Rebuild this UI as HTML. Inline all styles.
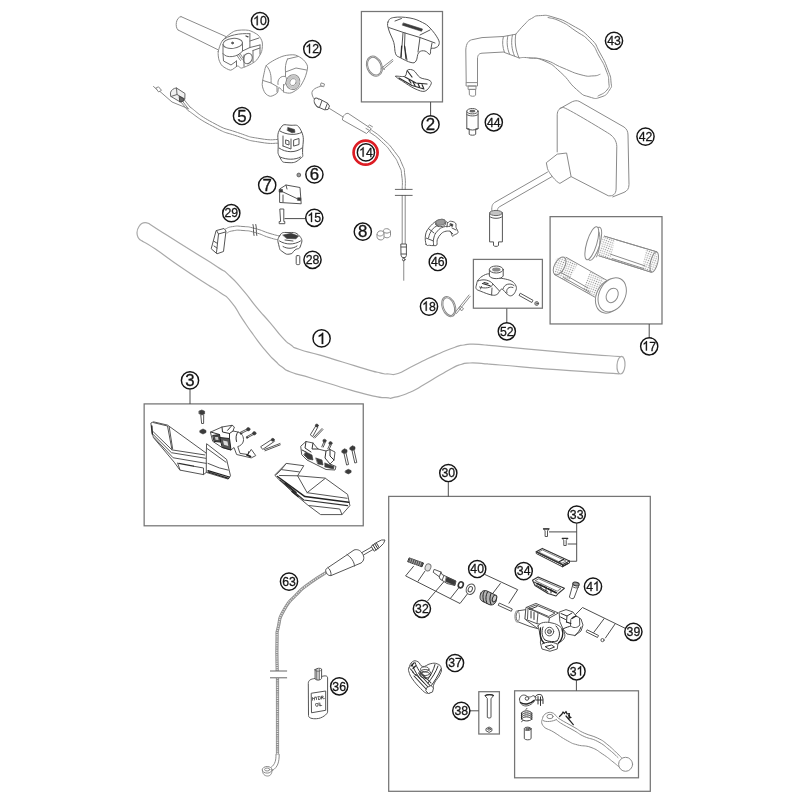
<!DOCTYPE html>
<html><head><meta charset="utf-8"><title>Handlebar, controls</title>
<style>
html,body{margin:0;padding:0;background:#fff;}
body{width:800px;height:800px;overflow:hidden;font-family:"Liberation Sans",sans-serif;}
svg{display:block;}
.bx{fill:none;stroke:#747474;stroke-width:1.25;}
.ld{fill:none;stroke:#444;stroke-width:0.95;}
.lc{fill:#fff;stroke:#151515;stroke-width:1.45;}
.lt{font-family:"Liberation Sans",sans-serif;font-size:16px;fill:#161616;stroke:#161616;stroke-width:0.3;text-anchor:middle;}
.hb{fill:none;stroke:#a9a9a9;stroke-width:1.2;stroke-linecap:round;stroke-linejoin:round;}
.p{fill:none;stroke:#555;stroke-width:1;stroke-linecap:round;stroke-linejoin:round;}
.pl{fill:none;stroke:#8a8a8a;stroke-width:1;stroke-linecap:round;stroke-linejoin:round;}
.pf{fill:#fff;stroke:#555;stroke-width:1;stroke-linecap:round;stroke-linejoin:round;}
.pfl{fill:#fff;stroke:#8a8a8a;stroke-width:1;stroke-linecap:round;stroke-linejoin:round;}
.pd{fill:#3a3a3a;stroke:#3a3a3a;stroke-width:0.6;stroke-linejoin:round;}
.pg{fill:#9a9a9a;stroke:#555;stroke-width:0.8;stroke-linejoin:round;}
.pk{fill:none;stroke:#2e2e2e;stroke-width:1.2;stroke-linecap:round;stroke-linejoin:round;}
</style></head>
<body>
<svg width="800" height="800" viewBox="0 0 800 800">
<defs><filter id="soft" x="-2%" y="-2%" width="104%" height="104%"><feGaussianBlur stdDeviation="0.62"/></filter></defs>
<rect x="0" y="0" width="800" height="800" fill="#ffffff"/>
<g filter="url(#soft)">
<g class="hb">
<path d="M148.8,223.5 C155.0,227.5 152.9,226.3 167.5,235.6 C182.1,244.8 175.8,240.8 192.5,251.2 C209.2,261.7 205.4,258.9 217.5,266.9 C229.6,274.8 220.4,267.5 228.8,275.1 C237.1,282.7 233.3,279.1 242.5,289.6 C251.7,300.2 247.1,295.8 256.2,306.8 C265.4,317.8 261.2,312.3 270.0,322.6 C278.8,332.9 275.5,330.2 282.5,337.7 C289.5,345.2 285.5,341.1 291.0,345.0 C296.5,348.9 289.3,345.8 299.0,349.2 C308.7,352.7 305.5,351.0 320.0,355.2 C334.5,359.5 327.5,357.5 342.5,362.0 C357.5,366.5 352.5,365.1 365.0,368.8 C377.5,372.4 372.0,371.1 380.0,372.8 C388.0,374.6 383.0,373.8 389.0,374.0 C395.0,374.2 391.0,375.7 398.0,373.5 C405.0,371.3 401.0,372.0 410.0,367.5 C419.0,363.0 415.0,364.8 425.0,360.0 C435.0,355.2 430.0,357.5 440.0,353.2 C450.0,349.0 447.0,350.0 455.0,347.2 C463.0,344.5 458.0,346.0 464.0,345.0 C470.0,344.0 466.0,344.2 473.0,344.2 C480.0,344.2 476.0,344.3 485.0,345.0 C494.0,345.7 471.7,343.8 500.0,346.4 C528.3,349.0 529.8,349.3 570.0,352.8 C610.2,356.2 603.8,355.3 620.8,356.6"/>
<path d="M142.5,241.2 C146.7,243.8 142.5,240.3 155.0,248.8 C167.5,257.2 163.3,255.0 180.0,266.5 C196.7,277.9 191.7,274.4 205.0,283.1 C218.3,291.8 211.2,286.1 220.0,292.5 C228.8,298.9 224.0,293.4 231.5,302.3 C239.0,311.2 235.2,308.2 242.5,319.1 C249.8,330.0 246.2,324.9 253.5,335.0 C260.8,345.1 257.2,340.6 264.5,349.4 C271.8,358.2 269.5,355.4 275.5,361.3 C281.5,367.2 277.7,363.8 282.5,367.2 C287.3,370.7 282.5,368.8 290.0,371.8 C297.5,374.8 292.5,372.5 305.0,376.2 C317.5,380.0 312.5,378.5 327.5,383.0 C342.5,387.5 335.0,385.5 350.0,389.8 C365.0,394.0 360.5,393.1 372.5,395.8 C384.5,398.4 378.5,397.2 386.0,397.7 C393.5,398.2 387.0,399.1 395.0,397.2 C403.0,395.4 400.0,396.7 410.0,392.2 C420.0,387.8 415.0,389.8 425.0,384.0 C435.0,378.2 431.0,380.2 440.0,375.0 C449.0,369.8 445.0,371.8 452.0,368.2 C459.0,364.8 455.0,366.2 461.0,364.5 C467.0,362.8 462.0,363.2 470.0,363.0 C478.0,362.8 475.0,363.1 485.0,363.8 C495.0,364.4 471.7,362.7 500.0,365.0 C528.3,367.3 530.3,367.7 570.0,370.6 C609.7,373.5 602.7,372.7 619.0,373.8"/>
<path d="M148.75,223.5 C145,222 141.25,223 139,226.500 C137,229.500 136.500,234 138.1,237.5 C139,239.500 140.500,240.500 142.5,241.25"/>
<ellipse cx="621" cy="365.2" rx="4" ry="8.8" transform="rotate(4 621 365.2)"/>
</g>
<g class="pl">
<path d="M181,16.6 L227,37 M178,30 L218.500,50 M181,16.6 C176,17 174.500,27 178,30"/>
<path class="pfl" d="M218.2,51.6 C218.7,49.3 220.4,43.1 222.4,40.6 C224.4,38.1 231.6,32.2 234.8,31.0 C237.9,29.8 245.7,29.8 248.5,30.3 C251.3,30.8 256.5,33.7 258.1,35.1 C259.8,36.5 261.8,40.0 262.2,42.0 C262.7,44.0 262.3,49.5 261.6,51.6 C260.9,53.7 258.0,58.4 256.8,59.9 C255.5,61.4 253.1,63.0 251.2,64.0 C249.4,65.0 243.2,67.9 241.6,68.1 C239.9,68.3 238.8,65.7 237.5,66.0 C236.2,66.3 232.4,70.2 230.6,70.2 C228.8,70.2 223.8,67.2 222.4,66.0 C221.0,64.8 219.5,61.6 219.0,59.9 C218.5,58.2 217.8,53.9 218.2,51.6Z"/>
</g><g class="p" stroke="#6e6e6e">
<ellipse cx="232.7" cy="43.4" rx="9.8" ry="5" transform="rotate(-6 232.7 43.4)" stroke="#6e6e6e"/>
<path stroke="#6e6e6e" d="M223,44.500 V53.500 C226,58.500 238,57.500 242.500,51 V42.500 M249.900,33.750 V47.500 M249.900,41 L259,38 M249.900,47.500 L260,45 M242.500,51 L249.900,47.500 M223,53.500 L223.500,61 L231,65 L236.500,61 M236.500,61 V66.500 M260,45 V54 M253,50.500 L260,48 M222.400,40.600 C228,35 240,33 249.900,33.750 M253,50.500 V62 M244,55 V66.500"/>
<ellipse cx="247.8" cy="58.5" rx="4.3" ry="5.4" transform="rotate(25 247.8 58.5)" stroke="#6e6e6e"/>
<circle cx="232.500" cy="43" r="0.900" fill="#666"/>
<path d="M237,55.500 l3.500,5 M238.500,54.500 l3.500,5 M240,53.500 l3,4.500" stroke="#555" stroke-width="0.700"/>
<path d="M246,36 l2,0.800" stroke="#444" stroke-width="1.300"/>
</g>
<g class="pl">
<path class="pfl" d="M266.4,65.4 C267.8,63.8 272.2,61.2 274.6,59.9 C277.0,58.6 281.5,56.4 284.2,55.8 C287.0,55.1 292.7,54.4 295.2,55.0 C297.8,55.6 301.9,58.3 303.5,59.9 C305.1,61.5 307.4,64.4 307.6,66.8 C307.8,69.1 306.0,75.0 304.9,77.8 C303.8,80.5 301.2,85.4 299.4,87.4 C297.6,89.4 293.1,92.3 291.1,92.9 C289.1,93.5 285.9,92.9 284.2,92.2 C282.6,91.5 279.7,87.3 278.8,87.4 C277.8,87.5 278.5,91.7 277.4,92.9 C276.3,94.1 272.2,96.3 270.5,96.3 C268.8,96.3 266.1,94.5 265.0,92.9 C263.9,91.3 262.3,87.4 262.2,84.6 C262.2,81.8 263.7,74.8 264.3,72.2 C264.9,69.7 265.0,67.0 266.4,65.4Z"/>
<path d="M287.500,59 C285.500,63 285,68 285.500,72 M285.500,72 L296,68 L306.500,70 M285.500,72 V76.500 M266.500,66 C270.500,70 271.500,76 271,83 L277,86.500 M271,83 L263,80.500 M277,86.500 V92 M287.500,59 L298,56.500 M283.500,84.500 V92"/>
<path d="M278,84.500 C277,79 281,75.500 285.500,76.500 C287.500,79 286.500,84 283.500,86"/>
<ellipse cx="293" cy="82.1" rx="6.8" ry="7.5" transform="rotate(20 293 82.1)" fill="#fff"/>
<ellipse cx="293" cy="82.1" rx="4.900" ry="5.500" transform="rotate(20 293 82.1)" fill="none" stroke="#c6c6c6" stroke-width="2.800"/>
<ellipse cx="293" cy="82.1" rx="3" ry="3.600" transform="rotate(20 293 82.1)" fill="#fff" stroke="#888" stroke-width="0.800"/>
</g>
<g class="pl">
<path d="M153.500,86.500 L157,89.500 M156,88 l2.500,-1.200 l3,3.500 l-2.500,1.500 z M160,91.500 L172,102 L188,108.500"/>
<path d="M190.0,107.0 C197.5,112.2 196.7,114.0 212.5,122.5 C228.3,131.0 221.7,127.1 237.5,132.5 C253.3,137.9 246.2,136.3 260.0,138.6 C273.8,140.9 272.7,139.2 279.0,139.5"/>
<path d="M188.0,110.5 C196.2,115.7 196.0,117.6 212.5,126.2 C229.0,134.8 221.7,130.9 237.5,136.2 C253.3,141.5 246.2,139.9 260.0,142.2 C273.8,144.5 272.7,142.9 279.0,143.2"/>
<path d="M184,99.500 L190,107 M182,100.500 L188.500,109 M180.500,101.500 L187.500,110"/>
</g><g class="p">
<path d="M170.500,92.500 C171,90 174,88 176.500,88 L185,93.500 L184.800,99 L180,101.800 L171,96.500 Z" fill="#f0f0f0" stroke="#666"/>
<path d="M176.500,88 L177,94.500 L184.800,99 M177,94.500 L171,96.500" stroke="#666"/><path d="M179.500,96.500 l4.500,2.500 l-0.300,2 l-3.500,1 z" fill="#666" stroke="#444"/>
<path class="pf" d="M280.0,129.0 C283.5,123.1 283.7,124.8 290.0,125.2 C296.3,125.7 297.2,123.1 301.0,130.5 C304.8,137.9 302.9,141.5 302.6,150.0 C302.3,158.5 304.4,155.0 300.0,158.8 C295.6,162.6 294.0,163.0 288.0,162.6 C282.0,162.2 282.9,162.8 280.0,157.5 C277.1,152.2 278.2,153.6 278.2,145.0 C278.2,136.4 276.5,134.9 280.0,129.0Z"/>
<path d="M280,131 C286,135 296,135.500 301.500,132.500 M279,148 C286,153 296,153 302,148 M283,136 V146 M283,146 L291,149 V139 M294,140 l5,-1.500 v6 l-5,1.500 z M286,140 l3,1 v4 l-3,-1 z"/>
<path class="pd" d="M288,127.500 L294.500,129.500 L295,132.300 L292,132.800 L287.500,130.500 Z"/>
<path d="M280,157 C287,160 295,160 300.500,157"/>
</g>
<circle class="pg" cx="298.8" cy="175" r="1.9"/>
<g class="p">
<path class="pf" d="M280,188.800 L286,185 L300,187.500 L301.200,203.800 L280,202.500 Z"/>
<path d="M281,191 L300,200 M286,185 L287,189 M283,195 V202"/>
<rect class="pd" x="279.500" y="189.500" width="3" height="2.600"/><rect class="pd" x="297.800" y="197.800" width="3" height="2.600"/>
</g>
<g class="p"><path class="pf" d="M280.200,209 h3.600 v12.500 h1 v2.200 h-5.600 v-2.200 h1 z"/></g>
<path class="ld" d="M284.500,218.600 H305.500"/>
<g class="pl">
<path d="M225.5,229.0 C227.8,228.2 226.7,227.4 232.5,226.6 C238.3,225.8 235.5,225.9 243.0,226.5 C250.5,227.1 246.0,226.2 255.0,228.5 C264.0,230.8 261.7,231.0 270.0,233.5 C278.3,236.0 276.7,235.2 280.0,236.0"/>
<path d="M227.0,233.0 C229.0,232.3 227.7,231.6 233.0,230.8 C238.3,230.0 235.7,229.9 243.0,230.5 C250.3,231.1 246.3,230.2 255.0,232.5 C263.7,234.8 261.0,235.0 269.0,237.5 C277.0,240.0 275.7,239.2 279.0,240.0"/>
</g><g class="p">
<path d="M253,224.500 C254,228 253,231 254,235.500 M255.800,224.500 C256.800,228 255.800,231 256.800,235.500"/>
<path class="pf" d="M216.500,230.500 L224,228.500 L226,231 L223.500,251.500 L217,253.800 L211.500,249 Z"/>
<path d="M216.500,230.500 L218.500,234 L216.500,252.500 M218.500,234 L225.500,232 M213.500,241 L217.500,243.500 M214,246 L217,248"/>
<path class="pf" d="M279.5,236.0 C282.2,231.9 282.0,232.5 288.0,232.5 C294.0,232.5 295.8,231.9 299.5,236.0 C303.2,240.1 301.9,241.8 300.5,246.0 C299.1,250.2 298.1,247.6 295.0,250.0 C291.9,252.4 293.6,253.4 290.0,254.0 C286.4,254.6 286.3,254.4 283.0,252.0 C279.7,249.6 280.1,250.8 279.0,246.0 C277.9,241.2 276.8,240.1 279.5,236.0Z"/>
<path class="pd" d="M283,235 L291,233.300 L298.500,236 L296,238.800 L287,238.500 Z" />
<path d="M279.500,241 C286,245 294,245 300.500,241 M285,240 l8,1 M283,246.500 C287,249 293,249 297,246"/>
</g>
<g class="p"><rect class="pf" x="296.200" y="255.600" width="3.600" height="9" rx="1"/></g>
<g class="p">
<path class="pf" d="M388.0,22.0 C389.0,19.5 389.4,18.3 393.8,17.5 C398.1,16.7 404.2,17.0 410.0,18.0 C415.8,19.0 418.5,20.5 422.5,22.5 C426.5,24.5 426.9,24.8 430.0,28.0 C433.1,31.2 436.2,35.4 438.0,38.8 C439.8,42.1 439.4,43.1 438.8,45.0 C438.1,46.9 436.6,47.2 435.0,48.0 C433.4,48.8 432.0,47.5 431.0,48.8 C430.0,50.0 431.2,53.9 430.0,54.4 C428.8,54.9 427.2,51.4 425.0,51.0 C422.8,50.6 420.6,50.5 418.8,52.5 C416.9,54.5 417.6,59.0 416.0,61.0 C414.4,63.0 414.2,63.2 411.0,62.5 C407.8,61.8 403.1,59.2 400.0,57.5 C396.9,55.8 396.9,56.8 395.6,53.8 C394.4,50.8 395.1,47.2 393.8,42.5 C392.4,37.8 389.9,34.1 388.8,30.0 C387.6,25.9 387.0,24.5 388.0,22.0Z"/>
<path d="M388.700,27.500 L405,33 L420,37.500 L435,43 M403,33 L402,46 L401,57.500 M395,21 L401.500,18.500 M420,35 L430,30 M405,33 L404.500,46 L407,60 M420,37.500 L418,52 M431,48.500 L432,43"/>
<path class="pd" d="M403.500,23 L422.500,29 L421.500,31.300 L402.500,25.200 Z"/>
<path class="pk" d="M401.600,46 L401,57 M404.600,46 L406,59" />
</g><g class="pl">
<ellipse cx="374.4" cy="66.2" rx="7.6" ry="10.4" transform="rotate(-22 374.4 66.2)"/>
<ellipse cx="374.4" cy="66.2" rx="6.4" ry="9.2" transform="rotate(-22 374.4 66.2)"/>
<path d="M381,68.500 L392.500,59.500 M382.500,70 L393,61 M382.500,67 l2,2.500"/>
</g><g class="p">
<path class="pf" d="M395.6,76.2 C396.0,75.4 403.0,77.3 405.0,76.2 C407.0,75.2 406.0,70.9 407.5,70.0 C409.0,69.1 411.7,69.3 413.8,70.6 C415.8,71.8 417.5,75.9 420.0,77.5 C422.5,79.1 426.9,79.0 428.8,80.0 C430.6,81.0 431.9,81.9 431.2,83.8 C430.6,85.6 427.7,90.4 425.0,91.2 C422.3,92.1 418.8,90.4 415.0,88.8 C411.2,87.1 405.7,83.3 402.5,81.2 C399.3,79.2 395.2,77.1 395.6,76.2Z"/>
<path class="pk" d="M399,78 L412,85.500 L424,89 M405,77 L416,83 L427,84 M409,80 l2,3 M413,82 l2,3.500 M418,83.500 l1.500,3.500 M422,84.500 l1.500,3.500 M407.500,71 L412,77"/>
</g>
<g class="pl">
<path d="M321.500,83 l3,1 l-0.800,2.800 l-3,-1 z M322,86 C317,87 311,89.500 312,94 C312.500,97 314,98.500 315,100"/>
<path d="M329.500,108.500 L343.200,117"/>
<path d="M347.700,113.300 C345,113 342,117 342.500,120 L366.500,133.500 L371,129 Z"/>
<path d="M366,128.500 l4.500,2.500 M368,126.500 l1.500,-1.500 l3,1.800"/>
<path d="M371.5,130.0 C375.5,133.2 375.8,132.3 383.5,139.5 C391.2,146.7 388.3,143.3 394.5,151.5 C400.7,159.7 398.6,156.2 402.0,164.0 C405.4,171.8 403.7,166.5 404.8,175.0 C405.9,183.5 405.1,184.6 405.2,189.4"/>
<path d="M369.5,132.0 C373.5,135.2 374.0,134.3 381.5,141.5 C389.0,148.7 386.2,145.5 392.0,153.5 C397.8,161.5 395.7,158.0 399.0,165.5 C402.3,173.0 400.7,168.0 401.8,176.0 C402.9,184.0 402.1,184.9 402.2,189.4"/>
<path d="M402.200,195.400 V243.800 M405.200,195.400 V243.800 M403.750,260.500 V280.300"/>
</g><g class="p">
<ellipse class="pf" cx="317.8" cy="102.8" rx="3" ry="5.2" transform="rotate(-30 317.8 102.8)"/>
<path class="pf" d="M319.500,99 L327.500,103.200 L329.500,106 L328,109.500 L324.500,109.800 L317,106.500"/>
<path d="M322,100.500 L319.500,107.500 M327.500,103.200 L325,109.500"/>
<path d="M395.300,189.400 H412.200 M395.300,195.400 H412.200" stroke-width="0.9"/>
<path class="pf" d="M401.200,244 h5.200 v11.500 l-1,2 h-3.200 l-1,-2 z"/><path d="M401.200,247 h5.200 M401.200,254 h5.200"/><circle cx="403.75" cy="259.600" r="1.300"/>
</g>
<g class="pl">
<path d="M377,234.500 C377,230 383,229.500 384,233.500 V238 C383,241 377,240.500 377,237 Z M377,234.500 C378.500,237 382.500,236.500 384,233.500"/>
<path d="M383,231 C383.500,227.500 390,228 390.500,231.500 V235.500 C390,238 386,238.500 384.500,237 M383.500,231.500 C385,234 389,233.500 390.500,231.500"/>
</g>
<g class="p" stroke="#6a6a6a">
<path class="pf" stroke="#6a6a6a" d="M426.1,244.4 C425.3,242.3 424.9,238.4 425.5,235.0 C426.1,231.6 427.1,230.2 429.2,227.5 C431.4,224.8 433.4,222.9 436.1,221.2 C438.9,219.6 440.7,219.2 443.0,219.4 C445.3,219.7 445.9,222.1 447.4,222.5 C448.9,222.9 448.9,221.1 450.5,221.2 C452.1,221.4 454.4,221.8 455.5,223.1 C456.6,224.3 455.6,225.6 456.1,227.5 C456.6,229.4 458.4,231.0 458.0,232.5 C457.6,234.0 455.4,234.2 454.2,235.0 C453.1,235.8 453.1,236.9 452.4,236.2 C451.6,235.6 451.8,232.9 450.5,231.9 C449.2,230.9 448.0,230.9 446.1,231.2 C444.2,231.6 442.8,232.1 441.1,233.8 C439.4,235.4 438.3,237.2 437.4,239.4 C436.5,241.7 437.6,243.8 436.8,245.0 C435.9,246.2 434.4,245.5 433.0,245.6 C431.6,245.7 430.9,245.5 429.5,245.3 C428.1,245.1 426.9,246.5 426.1,244.4Z"/>
<path d="M433.6,245.0 C433.7,243.1 432.8,241.7 433.8,238.0 C434.8,234.3 434.9,233.9 437.5,231.0 C440.1,228.1 440.3,228.2 443.5,227.0 C446.7,225.8 447.9,226.6 449.5,226.5"/>
<path d="M428.5,238.0 C429.2,236.3 428.9,234.7 431.0,231.5 C433.1,228.3 433.3,228.1 436.5,226.0 C439.7,223.9 441.3,224.4 443.0,223.8"/>
<path d="M426,238 L433.500,241 M429,229 L434,233 M447.400,222.500 L447,227 M452,228 l4,2 M450,231 l3,3"/>
<ellipse cx="440.5" cy="222.300" rx="4.800" ry="2.900" transform="rotate(-8 440.5 222.300)" fill="#9a9a9a" stroke="#777"/>
<path d="M435.800,223 v2 c2,2.500 8,2 9.500,-0.500 v-2"/>
<path class="pd" d="M450.500,223.500 l2.500,1 l-0.500,2 l-2.500,-1 z"/>
</g>
<g class="pl">
<ellipse cx="448.75" cy="306.6" rx="6.6" ry="10.4" transform="rotate(-20 448.75 306.6)"/>
<ellipse cx="448.75" cy="306.6" rx="5.3" ry="9.2" transform="rotate(-20 448.75 306.6)"/>
<path d="M455,312.500 L469,295 M456.500,313.500 L470.300,296.200 M460.500,306.500 l3,2 l-1.500,2.200 l-3,-2 z"/>
</g>
<g class="pl">
<path d="M466.2,82.6 L465.8,50 C466,43 469,40 473,39.500 L482,37.6 L503.4,36.5"/>
<path d="M477.5,82.6 V59 C477.500,55 479,53.500 482,53.200 L504,52"/>
<path d="M503.4,36.5 C502,42 502.500,47 504.500,52.500 M507.9,35.800 C506.500,42 507,48 509.500,54 M512.4,35 C511,42 511.500,49 514.500,56 M503.4,36.5 L515.75,34.25 M504.500,52.500 L519.1,57.9"/>
<path d="M515.8,34.2 C518.5,31.2 520.0,28.8 524.8,24.1 C529.5,19.4 526.8,21.1 531.5,18.5 C536.2,15.9 533.8,15.9 540.5,15.6 C547.2,15.3 544.5,14.5 554.0,17.4 C563.5,20.3 561.2,19.1 572.0,25.2 C582.8,31.4 581.6,29.7 590.0,38.0 C598.4,46.3 594.6,43.4 600.0,53.0 C605.4,62.6 604.7,61.3 608.0,70.0 C611.3,78.7 610.5,76.0 611.0,82.0 C611.5,88.0 612.5,85.5 609.5,90.0 C606.5,94.5 607.1,95.0 601.0,97.0 C594.9,99.0 596.4,99.1 589.0,96.8 C581.6,94.5 585.0,96.7 576.5,89.4 C568.0,82.1 570.2,80.9 560.8,72.5 C551.3,64.1 554.5,65.6 545.0,61.2 C535.5,56.9 537.0,58.9 529.2,57.9 C521.5,56.9 522.1,57.9 519.1,57.9"/>
<path d="M515.75,34.25 C514.500,42 515.500,50 519.1,57.9"/>
<path d="M548.0,17.5 C551.8,18.7 552.6,17.6 560.8,21.5 C568.9,25.4 566.2,24.4 575.0,30.5 C583.8,36.6 582.8,34.1 590.0,41.8 C597.2,49.4 594.2,47.5 599.0,56.0 C603.8,64.5 603.1,62.2 606.0,70.0 C608.9,77.8 608.5,76.0 608.8,82.0 C609.1,88.0 610.2,85.8 607.0,90.0 C603.8,94.2 600.7,94.2 598.0,96.0"/>
<path d="M529.2,57.9 C534.0,58.5 534.9,57.0 545.0,60.0 C555.1,63.0 552.2,63.6 563.0,68.0 C573.8,72.4 572.0,72.4 581.0,74.8 C590.0,77.1 587.3,76.0 593.0,75.9 C598.7,75.8 597.9,74.8 600.0,74.3"/>
<path d="M466.500,82.600 h11 v3.400 h-11 z M468.500,86 h7.500 v3.400 h-7.500 z M469.600,89.400 h6 v5.800 c-1,1.500 -5,1.500 -6,0 z"/>
</g>
<g class="p">
<path class="pf" d="M466.800,111.200 V128.750 h2.400 v5.500 c1,1.300 5.500,1.300 6.500,0 v-5.500 h2.400 V111.200"/>
<ellipse class="pf" cx="472.4" cy="111.2" rx="5.6" ry="2.7"/><ellipse cx="472.4" cy="111.2" rx="3" ry="1.400" fill="#666" stroke="none"/>
<path d="M466.800,128.750 C469,130.500 476,130.500 478.100,128.750 M466.800,114.500 C469,116.500 476,116.500 478,114.500"/>
</g>
<g class="pl">
<path d="M557.2,151.9 V114.75 C557.400,110 560,107.500 563.25,107.5 C566,107.500 600,128 609.4,133.9 C614,137 616.500,141 616.8,146.25 L616.1,189 C616,194 613,196.500 608.25,195.75 L571.1,176.6"/>
<path d="M560,108.500 L572.25,101.7 C575,100.500 577,100.500 579,101.25 L624,127 C627,129 628,132 628,135 L629,184.5 C629,189 627,191 624,192.4 L612.75,196.9"/>
<path class="pfl" d="M557.6,154.1 L566.6,153 L571.1,176.6 L559.9,183.4 C556,182 549,173 547.5,168.75 L546.4,163.1 Z"/>
<path d="M547.5,172.1 L494.6,202.5 C492.500,204 491.500,206 491.800,210.400 M552,176.6 L499.1,207 C498,208 497.500,209 497.500,210.400"/>
</g><g class="p" stroke="#777">
<path class="pf" stroke="#777" d="M489.600,213 V241.900 h3.900 v3.600 c1,1.200 4,1.200 5,0 v-3.600 h3.900 V213"/>
<ellipse cx="496" cy="213" rx="6.4" ry="2.600" fill="#c4c4c4" stroke="#666"/>
<path d="M489.600,216.500 C492,219 500,219 502.400,216.500"/>
</g>
<defs><pattern id="kn" width="2.2" height="2.2" patternUnits="userSpaceOnUse" patternTransform="rotate(20)"><rect width="2.2" height="2.2" fill="#fff"/><circle cx="1.1" cy="1.1" r="0.62" fill="#8c8c8c"/></pattern></defs>
<g class="pl">
<path d="M604.4,236.2 L656.7,251.8 M598.9,255.75 L651.25,272.2"/>
<path fill="url(#kn)" stroke="none" d="M603,236 L615,239.500 L610.500,259.500 L598.500,255.700 Z"/>
<path fill="url(#kn)" stroke="none" d="M646,249 L656,252 C659,255 657,268 652,272 L642,269 Z"/>
<path d="M604.4,236.2 L656.7,251.8 M598.9,255.75 L651.25,272.2 M610.6,254.2 L645,265.9 M612,258.500 L643.500,268.500"/>
<ellipse cx="654.2" cy="262" rx="3.6" ry="10.4" transform="rotate(14 654.2 262)"/>
<ellipse class="pfl" cx="594.600" cy="243.800" rx="5.2" ry="17.200" transform="rotate(17 594.600 243.800)"/>
<ellipse class="pfl" cx="591.800" cy="243.200" rx="5" ry="17.200" transform="rotate(17 591.800 243.200)"/>
<path d="M599,232 C601,238 600,250 596.500,257"/>
<path fill="url(#kn)" stroke="none" d="M556,258 L566,257 L578,264 L568,282 L554.500,274.500 Z"/>
<path fill="url(#kn)" stroke="none" d="M590,271 L604,279 L596,298 L583,290.500 Z"/>
<path d="M566.1,257.3 L607.5,280.75 M554.4,274.5 L595,297.2 M561,272.500 L588,288 M563.500,277.500 L590,292.500"/>
<ellipse cx="559.600" cy="265.900" rx="5" ry="9.800" transform="rotate(28 559.600 265.900)"/>
<ellipse class="pfl" cx="609.600" cy="296" rx="13" ry="18" transform="rotate(27 609.600 296)"/>
<ellipse class="pfl" cx="612.2" cy="294.8" rx="13" ry="18" transform="rotate(27 612.2 294.8)"/>
<ellipse cx="612.2" cy="295.4" rx="5.6" ry="7.6" transform="rotate(27 612.2 295.4)"/>
</g>
<g class="p">
<path class="pf" d="M477.8,280.7 C478.8,279.2 479.7,277.8 482.0,276.4 C484.3,275.0 486.6,273.6 489.4,273.8 C492.2,274.0 493.2,276.5 496.0,277.5 C498.8,278.5 500.1,277.9 503.2,278.6 C506.4,279.3 509.2,279.7 511.8,281.2 C514.3,282.7 515.2,284.0 516.0,286.0 C516.8,288.0 516.4,289.4 515.5,291.3 C514.6,293.2 513.4,295.0 511.8,295.6 C510.1,296.2 509.4,295.8 507.5,294.5 C505.6,293.2 503.8,289.8 502.2,289.2 C500.6,288.6 500.6,290.2 499.5,291.3 C498.4,292.4 498.5,293.8 496.9,294.5 C495.3,295.2 494.8,295.6 491.6,295.0 C488.4,294.4 484.0,292.6 480.9,291.3 C477.8,290.0 477.0,290.2 476.2,288.7 C475.4,287.2 476.4,285.5 476.7,283.9 C477.0,282.3 476.7,282.2 477.8,280.7Z"/>
<path class="pf" d="M489.400,269.500 V276 C491,279.500 501.500,279.500 503.200,276 V269.500"/>
<ellipse class="pf" cx="496.3" cy="269.5" rx="6.9" ry="3.5"/><ellipse cx="496.3" cy="269.5" rx="4.2" ry="2" fill="#8a8a8a" stroke="none"/>
<path d="M478,281 C483,278.500 490,280 493,284 C492,288 484,289 479.500,287 M493,284 L499.500,291 M503,289 C504,284 510,282.500 514,285.500 M507,293 C505.500,289 509,286 513,287.500 M480.500,289 L481.500,286.500 M491.600,295 L492,288"/>
<path class="pk" d="M482.500,283.500 L490,285.800 M484,282.500 L488,283.500"/>
<path class="pf" d="M520.6,293.400 L533,300.300 L531.800,302.500 L519.400,295.600 Z"/>
<circle cx="536.7" cy="303.5" r="1.9"/><circle cx="536.7" cy="303.5" r="0.700"/>
</g>
<g class="p">
<path class="pf" stroke="#3c3c3c" stroke-width="1.1" d="M151.2,422.9 L153.4,421.8 L167.5,425.1 L206.3,453.2 L206.6,443.7 L226.6,459.4 L230.5,475.8 L228.2,479.1 L206.3,472.4 L203.5,474.6 L179.9,470.1 L174.2,462.2 L153.4,437.5 L151.8,430.8Z"/>
<path d="M153.400,422.600 L167.500,426 L172,449.900 L153.400,431.900 M169.200,426.800 L172.600,448.700 M172,449.900 L204.600,454.900 M153.400,434.700 L171.400,452.700 L205.750,458.300 M154,437.500 L173.100,457.750 L206.300,463.400 M206.300,453.250 L206.300,472.400 M207.400,448.750 L226,462.250 M208,463.400 L219.250,467.900 L228.250,470.100 M177.600,463 L180,470 M193.400,466.200 L203.500,468 L203.500,474.600"/>
<path class="pk" d="M178.750,463.400 L193.400,466.200" stroke-width="1.700"/>
<path d="M208,470.600 L229.400,477 M208,472 L228.500,478.300" stroke="#222" stroke-width="1.300"/>
<path d="M151.800,426 L152.300,434" stroke="#222" stroke-width="1.400"/>
<path class="pd" d="M199.200,411 l2.600,-1 l2.800,1.200 v2.600 l-2.600,1.200 l-2.800,-1.200 z"/>
<path d="M200.800,415 L201.600,423.500 L203.600,423.500 L203.700,415"/>
<path class="pd" d="M200,430.500 l3,-1.500 l3,1.500 v2 l-3,1.500 l-3,-1.500 z"/>
<path class="pf" d="M210.750,432 L222,427 L232.100,425.250 L234.400,427 L233,431 L238,432 C242,433 244,437 243.400,441 C243,444 240,446 237.750,446.600 L240,453.400 L247.900,454.500 L251.250,449.400 L255.750,455.600 L251.250,457.900 L236.600,454.500 L234,447.500 L231,450 L222,447.500 L213,441.500 Z"/>
<path d="M213,435.400 L219.500,434.500 L220.900,442.100 L214.500,441.500 Z" fill="#4a4a4a" stroke="#222"/>
<path d="M220.300,437.600 L229.500,438.500 L231,450 L222.500,447.500 Z" fill="#555" stroke="#222"/>
<path d="M223,440.500 l4.500,1 l0.800,4.500 l-4.300,-1.200 z" fill="#ddd" stroke="none"/>
<path d="M215,437 l3,0 l0.500,3 l-3,-0.300 z" fill="#ccc" stroke="none"/>
<path d="M222,427 L222.500,432 L229.500,433.500 M227.600,430.300 L232.100,425.250 M229.500,433.500 L233,431 M229.500,433.500 L229.500,438.500 M238,432 C236,434 235.500,438 236.500,441.500 M247.900,454.500 l1,-3 M210.750,432 L219.500,434.500" stroke="#333"/>
<path d="M247,455 l3.500,1.500" stroke="#222" stroke-width="1.800"/>
<path d="M240,432.500 L247,429 M240.500,433.800 L247.600,430.300 M246.500,436.800 L253.500,433 M247,438 L254,434.300"/>
<circle class="pd" cx="248.300" cy="429.200" r="1.700"/><circle class="pd" cx="254.300" cy="433.300" r="1.700"/><circle class="pd" cx="241" cy="433.500" r="0.800"/><circle class="pd" cx="247.200" cy="437.500" r="0.800"/>
<path class="pf" d="M261,446.500 L272.500,439 L274.500,441.300 L263,449.200 Z"/><circle class="pd" cx="272.800" cy="439.800" r="1.500"/>
<path d="M264.500,449.500 L280,443.500 M265,450.800 L280.300,444.800"/>
<path class="pf" stroke="#3c3c3c" stroke-width="1.1" d="M275.1,474.7 L286.3,463.4 L303.8,465.7 L297.6,475.8 L325.1,478.1 L347.6,494.4 L349.9,505.6 L342.0,514.6 L320.6,514.6 L307.1,504.5 L292.5,492.1 L276.8,477.5Z"/>
<path d="M286.300,463.400 L281.250,469.600 L299.250,471.900 M281.250,469.600 L276.500,474.500 M297.600,475.800 L307.100,492.700 L347.100,498.300 M307.100,492.700 L325.100,478.500 M279.500,475.500 L297.600,475.800 M309.500,505.600 L339.750,509 L342,514.600"/>
<path d="M277.500,476.500 L304.900,496.600 L348.750,502.250" stroke="#222" stroke-width="1.500"/>
<path d="M280,480 L303.750,500 L347.600,505.600" stroke="#333" stroke-width="1.100"/>
<path d="M285,483 L296,492.500 M292,491.500 L298,496.500" stroke="#222" stroke-width="1.600"/>
<path class="pf" d="M301,446 L306,441.500 L313,443 L318,449 L326,451 L330,449.500 L335,452 L334,460 L330,464 L336,466.500 L335,470 L326,469.500 L317,465 L307,460 L302,455 Z"/>
<path class="pd" d="M306,452 L312,455 L313,460 L308,459 L304,455 Z M316,458 L322,460 L323,465 L318,464 Z M325,463 L334,466.500 L333.500,469 L325,467 Z"/>
<path d="M306,441.500 L305,448 L311,452 M313,443 L312,449 L318,449 M326,451 L325,458 L330,464 M330,449.500 L330,456 L334,460 M302,450 L306,452" stroke="#333"/>
<path class="pf" d="M310.500,434.500 L316,425.500 L318,426.800 L312.800,436.300 Z"/><circle class="pd" cx="316.800" cy="425.500" r="1.500"/>
<path d="M313.500,437.500 L322,428.500 M314.800,438 L323,429.500"/>
<circle class="pd" cx="324.500" cy="440.800" r="1.600"/><path d="M323.800,442 L321.800,446.800 M325.200,442.500 L323.200,447.200"/>
<circle class="pd" cx="330.500" cy="443.200" r="1.600"/><path d="M329.800,444.500 L327.800,448.800 M331.200,445 L329.200,449.200"/>
<path class="pd" d="M342,450.500 l2.500,-1.800 l2.500,1.200 v2.400 l-2.500,1.400 l-2.500,-1.200 z"/><path d="M344,453.500 L346.600,465 L348.600,464.500 L346,453"/>
<path class="pd" d="M350,447.500 l2.500,-1.800 l2.500,1.200 v2.400 l-2.500,1.400 l-2.500,-1.200 z"/><path d="M352,450.500 L354.800,463 L356.800,462.500 L354,450"/>
<path class="pd" d="M345.500,470.800 l2.800,-1.500 l2.800,1.300 v1.800 l-2.800,1.500 l-2.800,-1.300 z"/>
</g>
<path d="M327.0,572.0 C321.3,575.7 320.3,575.3 310.0,583.0 C299.7,590.7 304.7,586.0 296.0,595.0 C287.3,604.0 289.8,599.7 284.0,610.0 C278.2,620.3 280.8,615.3 278.5,626.0 C276.2,636.7 277.4,627.0 277.0,642.0 C276.6,657.0 277.1,661.3 277.2,671.0" fill="none" stroke="#8f8f8f" stroke-width="3.2"/>
<path d="M327.0,572.0 C321.3,575.7 320.3,575.3 310.0,583.0 C299.7,590.7 304.7,586.0 296.0,595.0 C287.3,604.0 289.8,599.7 284.0,610.0 C278.2,620.3 280.8,615.3 278.5,626.0 C276.2,636.7 277.4,627.0 277.0,642.0 C276.6,657.0 277.1,661.3 277.2,671.0" fill="none" stroke="#e4e4e4" stroke-width="1.500" stroke-dasharray="1.1 1.1"/>
<path d="M277.500,678 V754.500" fill="none" stroke="#8f8f8f" stroke-width="3.2"/>
<path d="M277.500,678 V754.500" fill="none" stroke="#e4e4e4" stroke-width="1.500" stroke-dasharray="1.1 1.1"/>
<g class="p">
<path d="M270.400,671 H286.700 M270.400,677.800 H286.700" stroke-width="0.9"/>
<path class="pf" d="M328,567.600 L346,555.500 L354,550 C357,549 360,550 362,553 C365,557 364,561 361,563 L331,575.600 C328,576 325.500,573 325.600,570 Z"/>
<path d="M347,554.500 C351,557 354.500,562 354.500,566 M328,567.600 C330,569 331.500,572.500 331,575.500"/>
<path d="M362,552.500 L372,546.800 M363.500,555 L373.500,549.200"/>
<path class="pf" d="M371.500,546 L376.500,542.500 L379.500,547.500 L374.500,551 Z"/><path class="pf" d="M376.500,542.500 L381.500,540 L385,540 L383.500,543.500 L379.500,547.500 Z"/>
<path d="M373,545 l3,5 M374.800,543.800 l3,5" stroke="#333"/>
</g><g class="pl">
<path d="M276,754.500 C276,760 275.500,764 271,767.500 M279.200,754.500 C279.200,762 278,767 272.500,770.500"/>
<ellipse class="pfl" cx="267.2" cy="769.8" rx="4.9" ry="3.300"/><ellipse cx="267.2" cy="769.500" rx="2.600" ry="1.500"/>
<path d="M262.300,770 C262.500,774.500 265,776 267.500,776 C270,776 272,774.500 272.100,770"/>
</g>
<g class="p">
<path class="pf" d="M308.300,683 C308.300,680 311,679 315,678.500 L321.600,676.500 C325,675.500 327.600,675.500 327.600,678 L327.600,711.900 C327.600,714 322,718.500 316.700,718.700 C312,719 308.500,718 308.500,716 Z"/>
<path class="pf" d="M315.100,669.500 V679 C316.500,680.500 320.500,680.500 321.600,678.500 V669 C320.500,667.800 316.500,668 315.100,669.500 Z"/>
<path d="M316.500,669.500 V679.500 M318,669.500 V680 M319.500,669.500 V679.500 M315.100,670.500 C317,672 320,671.500 321.600,670" stroke-width="0.700"/>
<path d="M311.600,693.200 L325.700,691 L325.700,710.300 L311.900,712.700 Z"/>
</g>
<text transform="translate(318.700,699.800) rotate(-9) scale(0.82,1)" style="font-family:'Liberation Sans',sans-serif;font-weight:bold;font-size:5.2px;fill:#222;text-anchor:middle">HYDR.</text>
<text transform="translate(318.900,706.300) rotate(-9) scale(0.82,1)" style="font-family:'Liberation Sans',sans-serif;font-weight:bold;font-size:5.2px;fill:#222;text-anchor:middle">OIL</text>
<path class="ld" d="M405.6,575.9 L460,603.5 M413.7,566.1 L405.6,575.9 M425,571 L417.75,581.6 M445.4,580 L435.6,591.3 L427.5,601 M459.2,587.25 L450.25,598.6 M468.1,593 L460,603.5"/>
<g class="p">
<path d="M409.500,558 L423.500,563 L422,566.800 L408,561.800 Z" fill="#555" stroke="#333"/>
<path d="M411,558.500 l-1.300,3.800 M413,559.200 l-1.300,3.800 M415,560 l-1.300,3.800 M417,560.700 l-1.300,3.800 M419,561.400 l-1.300,3.800 M421,562.100 l-1.300,3.800" stroke="#ddd" stroke-width="0.600"/>
<ellipse cx="428" cy="567.4" rx="2.800" ry="3.700" transform="rotate(20 428 567.4)" fill="#ddd" stroke="#777"/>
<path class="pf" d="M434.500,569.500 L441,572 L442,574.500 L456,581 L455,585.500 L447,583.500 L440,579 L439,576.500 L433.500,572.500 Z"/>
<path class="pd" d="M446.500,577 L455.500,581 L454.500,585.300 L445.500,581.500 Z"/>
<path d="M441,572 l-1.500,4.500 M444,575.500 l-1.800,4.500" />
<ellipse cx="460.8" cy="584.8" rx="2.400" ry="3.100" transform="rotate(20 460.8 584.8)" fill="none" stroke="#333" stroke-width="1.600"/>
<ellipse class="pf" cx="470.6" cy="589.2" rx="4.300" ry="5.400" transform="rotate(25 470.6 589.2)"/><ellipse cx="470.3" cy="589.2" rx="2" ry="2.800" transform="rotate(25 470.3 589.2)"/>
</g>
<path class="ld" d="M484.4,574.25 L517.7,589.7 L508.75,603.5 M500.6,583.2 L492.5,593.75"/>
<g class="p">
<path d="M481,593 C482,590.500 485,590 487,591 L494.500,594.500 C497,596 497,600 495.500,602.500 C494,605 491,605.500 489,604.500 L482,601 C479.500,599.500 479.500,596 481,593 Z" fill="#b4b4b4" stroke="#333"/>
<path d="M484.500,591 C482.500,594 482.500,598 484,602 M487.500,592 C485.500,595.500 485.500,600 487,603.500 M491,593.500 C489.500,597 489.500,601 491,604.500" stroke="#222"/>
<ellipse cx="494.500" cy="598.500" rx="2" ry="3.500" transform="rotate(22 494.500 598.500)" fill="#ccc" stroke="#333"/>
<path class="pf" d="M499.600,603.200 L512.300,609 L511.300,611.300 L498.600,605.500 Z"/>
</g>
<path class="ld" d="M576.7,523.500 V561.25 M549,531.9 H576.7 M567.7,544 H576.7 M569,561.25 H576.7"/>
<g class="p">
<path d="M543.800,529 h5 l-1.300,2 v5.500 h-2.400 v-5.500 z" class="pf"/><path class="pk" d="M543.500,528.800 h5.600"/>
<path d="M562.500,538.500 h5 l-1.300,2 v5 h-2.400 v-5 z" class="pf"/><path class="pk" d="M562.200,538.300 h5.600"/>
<path d="M536.25,551.7 L542.3,548.4 L569.5,561.1 L562.5,564.8 Z" fill="#fff" stroke="#333" stroke-width="1.100"/>
<path d="M536.25,551.7 v1.800 L562.5,566.800 v-2 M562.5,566.800 L569.5,563 v-1.900" stroke="#333"/>
<path d="M539,551.800 L542.500,550 L566,561 L562.300,563 Z" stroke="#666" stroke-width="0.800"/>
<path d="M537.500,552.500 L562,564.300" stroke="#333" stroke-width="1.300"/>
<path d="M559.500,561.500 l4,-2 M563,566 l4.500,-2.500" stroke="#222" stroke-width="1.200"/>
</g>
<g class="p">
<path d="M532.5,580.3 L538.1,577 L564.4,588.3 L558.75,593 L556,596 L548,593.500 L535,585.500 Z" fill="#fff" stroke="#333" stroke-width="1.100"/>
<path d="M535.500,580.500 L538.800,578.800 L561,588.500 L557.500,591 Z" stroke="#555" stroke-width="0.800"/>
<path d="M534,582 L557,593 M536,585 L548,592 M541,584.500 v3.500 M546,587 v3.500 M551,589.500 v3.500" stroke="#333" stroke-width="1"/>
<path d="M537,583.500 l4,2 M542.500,586 l4,2 M548,588.800 l4,2 M553,591.300 l3,1.500" stroke="#222" stroke-width="1.600"/>
</g>
<g class="p">
<path class="pf" d="M573,584 L569.400,597 C570.500,598.800 573,599.200 574,598 L578.800,585.300"/>
<ellipse cx="576" cy="584" rx="3.300" ry="1.900" transform="rotate(15 576 584)" fill="#999" stroke="#333"/>
<path d="M572.500,586.500 C574,588 577,588.500 578.500,587.500"/>
</g>
<g class="p">
<path class="pf" d="M518.400,610.75 L526,609.600 L526,620 L538.1,628.75 L530,626.500 L518.400,622 C515.500,620 515,613.500 518.400,610.75 Z" stroke="#8a8a8a"/>
<ellipse cx="517.200" cy="616.4" rx="2.300" ry="5.800" stroke="#8a8a8a"/>
<path class="pf" d="M526.3,607.4 L535.9,603.4 L558.4,613 L549.4,618 L548.25,625.4 L537,623.7 L525.2,619.2 Z"/>
<path d="M526.3,607.4 L549.4,618 M529,607.800 L536,605 L555,613 L549,616.300 Z M537,623.700 L538,612.800 M528,609 L527.500,619"/>
<path d="M529.500,609.500 L537,606.500 M531,611 v7 M534,612.500 v7" stroke="#333"/>
<path class="pf" d="M538,626 C540,622 546,621.500 552,623 C558,624 563,628 564.500,633 C566,638 563,641 558,643 L557.250,649 L550,651.250 L542,649 L540.400,643 C541,638 540,633 538,626 Z"/>
<circle cx="549.4" cy="631.6" r="4.300"/><circle cx="549.4" cy="631.6" r="2" fill="#bbb"/>
<path d="M543,627 C541,632 542,637 545,640 M556,626 C560,630 561,636 557,641 M545,640 C549,642 554,642 557,641 M542,644 C546,641.500 553,641.500 557,644 M545.500,646.500 l6,-1.500 l3,2 l-5,2 z" stroke="#333"/>
<path d="M540.500,628 C539.500,634 541,640 544,643 M562,629 C564,634 562,640 558.500,643" stroke="#222" stroke-width="1.300"/>
<path class="pf" d="M559.500,612 L566,609.600 L573,612 L576,616 L581,619 L583,625 L581,631 L575,635.500 L567,634 L563,629 L560,622 Z"/>
<path class="pf" d="M571,619 C572.500,616 577,615.500 579.500,618 L579.750,625 C578,628 573,628.500 570.750,626 Z"/>
<path d="M561,613.500 L567,616 L572,613 M567,616 L566.500,622 M563,629 C566,627 569,627 570.750,626 M575,635.500 C578,633 580,630 581,627 M560.500,617 L565.500,619.500" stroke="#333"/>
<path d="M566.500,622 L570.800,623.500 M576,616 l-4,2.500" stroke="#222" stroke-width="1.200"/>
</g>
<path class="ld" d="M625.2,628.3 L582.5,607.5 L575.3,614.75 M604.3,618.4 L593.4,632.9 M615.2,623.8 L605.2,638.3"/>
<g class="p"><path class="pf" d="M587.500,630 L598.500,635.500 L597.500,637.500 L586.500,632 Z"/><circle cx="602.5" cy="640.1" r="1.600"/></g>
<g class="p">
<path class="pf" d="M409.0,667.9 C409.8,665.5 410.3,663.1 412.4,661.7 C414.5,660.3 415.5,660.6 417.9,661.7 C420.3,662.8 419.8,666.0 422.7,666.5 C425.6,667.0 426.9,664.4 430.2,663.8 C433.6,663.1 434.5,662.8 437.1,663.8 C439.7,664.7 440.6,665.3 441.2,667.9 C441.9,670.5 441.5,671.2 439.9,674.8 C438.3,678.3 436.2,679.5 434.4,683.0 C432.6,686.5 433.9,687.5 432.3,689.9 C430.7,692.3 430.2,693.6 427.5,693.3 C424.8,693.0 424.1,691.9 420.6,688.5 C417.1,685.1 415.1,682.8 412.4,678.9 C409.7,675.0 409.8,674.6 409.0,672.0 C408.2,669.4 408.2,670.3 409.0,667.9Z"/>
<ellipse cx="424.75" cy="669.25" rx="4.200" ry="2.400"/><ellipse cx="425.200" cy="672.500" rx="5.400" ry="3"/><ellipse cx="425.200" cy="675" rx="5.400" ry="3"/>
<path d="M412,664 C414,670 418,677 424,683 M415,662.500 C417,668 420,673 426,679 M438,666 C436,672 432,678 428,683 M441,669 C438,676 434,682 431,686 M435,664.500 C433.500,670 431,675 428,679" stroke="#333"/>
<path d="M414,676 L427,690 M416,674.500 L428.500,687.500 M418.500,673 L430,685.500 M412.500,672 L416,675.500 M410.500,669 L413.500,672.500 M420.500,672 L431,683" stroke="#333" stroke-width="1.050"/>
<path d="M411,666 l3,-3 M413,668.500 l2.500,-2.500" stroke="#222" stroke-width="1.200"/>
<path class="pf" d="M427,687.500 l4,-2 l2.500,2.500 l-1,4 l-4,1.500 l-2.500,-2.500 z"/>
</g>
<g class="p">
<path class="pf" d="M485.250,695.500 C487,694.300 492,694.300 493.500,695.500 L491,698.800 V717.400 C490.300,718.200 488,718.200 487.300,717.400 V698.800 Z"/>
<path class="pk" d="M485.250,695.500 C487,694.300 492,694.300 493.500,695.500"/>
<path class="pf" d="M486.300,728.500 l2.800,-1.500 l2.800,1.500 v2.400 l-2.800,1.500 l-2.800,-1.500 z"/><ellipse cx="489.100" cy="729.200" rx="1.500" ry="0.900"/>
</g>
<g class="pl">
<path d="M542.9,717.0 C543.8,716.0 543.8,714.4 546.3,713.3 C548.8,712.2 549.5,712.0 552.2,712.8 C554.9,713.6 554.2,714.4 556.4,716.2 C558.6,718.0 555.9,716.7 560.6,719.6 C565.3,722.5 567.8,723.6 574.1,727.2 C580.4,730.8 577.9,730.2 584.2,733.1 C590.6,736.0 591.4,735.1 597.8,738.2 C604.1,741.3 602.5,740.6 607.9,744.9 C613.3,749.2 614.2,750.6 618.0,754.2 C621.8,757.8 621.1,757.3 622.2,758.4"/><path d="M556.4,719.5 C557.5,720.4 555.9,720.0 560.6,723.0 C565.3,726.0 567.8,727.0 574.1,730.6 C580.4,734.2 577.9,733.6 584.2,736.5 C590.6,739.4 591.0,737.9 597.8,741.5 C604.5,745.1 604.2,745.7 609.6,750.0 C615.0,754.3 615.8,755.6 618.0,757.6"/><path d="M542.9,717.0 C542.9,719.3 540.0,721.4 542.9,725.5 C545.8,729.6 547.4,728.2 553.9,732.2 C560.4,736.3 561.1,737.3 567.4,740.7 C573.7,744.1 571.2,743.1 577.5,744.9 C583.8,746.7 584.3,744.9 591.0,747.4 C597.7,749.9 597.0,750.4 602.8,754.2 C608.6,758.0 608.7,758.5 612.9,761.8 C617.1,765.1 617.0,765.2 618.5,766.5"/>
<path d="M542.900,720.500 C546,722.500 553,721.500 556.400,719.500"/>
<ellipse cx="550" cy="716.5" rx="3.100" ry="2.200"/>
<circle class="pfl" cx="625.6" cy="764.3" r="7"/>
</g><g class="p">
<path d="M559.500,716.500 l2.500,-2.500 l1,-2 l1.500,1.500 l1.500,-2 l1,2.500 l2.500,-0.500 l-1,2.500 l2.500,1.500 l-3,1 M566,716 L573.300,724.700 M569,718.500 l0.500,-3.500" stroke="#222" stroke-width="1.200"/>
<path class="pf" d="M519.500,699 C520,695.500 523,694.300 526,695.500 C528,697.500 531,697.500 533,695.500 L536,697 C535,702 531,705.500 526,706 C522,706 519.500,703 519.500,699 Z"/>
<circle cx="527" cy="698.5" r="1.800"/>
<path d="M520.500,702.500 C524,705 530,704.500 534,700.500" stroke="#222" stroke-width="1.500"/>
<path d="M535,697 C536,694.500 540,693.500 542,695.500 L543,699 V703.500 M538,696.500 V704 M540.500,697 V705.500 M536,700 h6.500" stroke="#333"/>
<path d="M521.500,713 C523,710 530,710 531.800,713 M521.500,715 C523,712 530,712 531.800,715 M521.500,717 C523,714 530,714 531.800,717 M521.500,719 C523,716 530,716 531.800,719 M522,719.500 C524,721.500 529,721.500 531.500,719.500 M521.500,713 V719 M531.800,713 V719" stroke="#333"/>
<path d="M526,709.500 l1,-1.200 M523,720.500 l-1.500,1.200" />
<path class="pf" d="M524.300,728.800 V738.600 C525.500,740.300 530,740.300 531.100,738.600 V728.800"/><ellipse class="pf" cx="527.7" cy="728.800" rx="3.400" ry="1.700"/><ellipse cx="527.7" cy="728.800" rx="1.900" ry="0.800" fill="#999"/>
</g>
<rect class="bx" x="361.4" y="11.5" width="81.1" height="90.4"/>
<rect class="bx" x="550.1" y="216.65" width="111.9" height="107.3"/>
<rect class="bx" x="473.4" y="259.4" width="69.0" height="48.8"/>
<rect class="bx" x="144.15" y="403.9" width="219.1" height="121.9"/>
<rect class="bx" x="388.7" y="496.4" width="261.6" height="294.9"/>
<rect class="bx" x="514.6" y="690.8" width="123.9" height="87.0"/>
<rect class="bx" x="478.8" y="691.7" width="20.6" height="42.3"/>
<path class="ld" d="M430.6,102 V115 M649.2,324 V337.5 M506.8,308.5 V322.5 M190,389.5 V404 M448.3,482 V496.5 M576.4,680.5 V690.8 M470,710.8 H478.8"/>
<circle class="lc" cx="321.6" cy="338.4" r="8.6"/>
<path d="M323.20,343.98L321.72,343.98L321.72,335.25C321.13,335.79 319.95,336.50 318.75,336.89L318.75,335.56C320.45,334.78 321.80,333.69 322.24,332.82L323.20,332.82Z" fill="#161616" stroke="#161616" stroke-width="0.3"/>
<circle class="lc" cx="430.5" cy="124.4" r="8.6"/>
<text class="lt" style="text-anchor:start;font-size:15.6px" transform="translate(425.82,129.98) scale(1.08,1)">2</text>
<circle class="lc" cx="190" cy="380.4" r="8.6"/>
<text class="lt" style="text-anchor:start;font-size:15.6px" transform="translate(185.32,385.98) scale(1.08,1)">3</text>
<circle class="lc" cx="242" cy="116" r="8.6"/>
<text class="lt" style="text-anchor:start;font-size:15.6px" transform="translate(237.32,121.58) scale(1.08,1)">5</text>
<circle class="lc" cx="314.4" cy="174.5" r="8.6"/>
<text class="lt" style="text-anchor:start;font-size:15.6px" transform="translate(309.72,180.08) scale(1.08,1)">6</text>
<circle class="lc" cx="267.2" cy="185.1" r="8.6"/>
<text class="lt" style="text-anchor:start;font-size:15.6px" transform="translate(262.52,190.68) scale(1.08,1)">7</text>
<circle class="lc" cx="362.8" cy="231.7" r="8.6"/>
<text class="lt" style="text-anchor:start;font-size:15.6px" transform="translate(358.12,237.28) scale(1.08,1)">8</text>
<circle class="lc" cx="260" cy="21" r="8.6"/>
<path d="M257.75,25.23L256.67,25.23L256.67,17.83C256.24,18.30 255.38,18.89 254.51,19.22L254.51,18.10C255.75,17.44 256.73,16.51 257.05,15.77L257.75,15.77Z" fill="#161616" stroke="#161616" stroke-width="0.3"/>
<text class="lt" style="text-anchor:start;font-size:13.2px" transform="translate(260.00,25.23) scale(0.93,1)">0</text>
<circle class="lc" cx="312.3" cy="49" r="8.6"/>
<path d="M310.05,53.23L308.97,53.23L308.97,45.83C308.54,46.30 307.68,46.89 306.81,47.22L306.81,46.10C308.05,45.44 309.03,44.51 309.35,43.77L310.05,43.77Z" fill="#161616" stroke="#161616" stroke-width="0.3"/>
<text class="lt" style="text-anchor:start;font-size:13.2px" transform="translate(312.30,53.23) scale(0.93,1)">2</text>
<circle class="lc" cx="365.9" cy="152.4" r="8.6"/>
<path d="M363.65,156.63L362.57,156.63L362.57,149.23C362.14,149.70 361.28,150.29 360.41,150.62L360.41,149.50C361.65,148.84 362.63,147.91 362.95,147.17L363.65,147.17Z" fill="#161616" stroke="#161616" stroke-width="0.3"/>
<text class="lt" style="text-anchor:start;font-size:13.2px" transform="translate(365.90,156.63) scale(0.93,1)">4</text>
<circle class="lc" cx="314.3" cy="217.8" r="8.6"/>
<path d="M312.05,222.03L310.97,222.03L310.97,214.63C310.54,215.10 309.68,215.69 308.81,216.02L308.81,214.90C310.05,214.24 311.03,213.31 311.35,212.57L312.05,212.57Z" fill="#161616" stroke="#161616" stroke-width="0.3"/>
<text class="lt" style="text-anchor:start;font-size:13.2px" transform="translate(314.30,222.03) scale(0.93,1)">5</text>
<circle class="lc" cx="649.2" cy="346.3" r="8.6"/>
<path d="M646.95,350.53L645.87,350.53L645.87,343.13C645.44,343.60 644.58,344.19 643.71,344.52L643.71,343.40C644.95,342.74 645.93,341.81 646.25,341.07L646.95,341.07Z" fill="#161616" stroke="#161616" stroke-width="0.3"/>
<text class="lt" style="text-anchor:start;font-size:13.2px" transform="translate(649.20,350.53) scale(0.93,1)">7</text>
<circle class="lc" cx="429" cy="306.6" r="8.6"/>
<path d="M426.75,310.83L425.67,310.83L425.67,303.43C425.24,303.90 424.38,304.49 423.51,304.82L423.51,303.70C424.75,303.04 425.73,302.11 426.05,301.37L426.75,301.37Z" fill="#161616" stroke="#161616" stroke-width="0.3"/>
<text class="lt" style="text-anchor:start;font-size:13.2px" transform="translate(429.00,310.83) scale(0.93,1)">8</text>
<circle class="lc" cx="312.5" cy="259.8" r="8.6"/>
<text class="lt" style="text-anchor:start;font-size:13.2px" transform="translate(305.67,264.03) scale(0.93,1)">2</text>
<text class="lt" style="text-anchor:start;font-size:13.2px" transform="translate(312.50,264.03) scale(0.93,1)">8</text>
<circle class="lc" cx="231.3" cy="213.2" r="8.6"/>
<text class="lt" style="text-anchor:start;font-size:13.2px" transform="translate(224.47,217.43) scale(0.93,1)">2</text>
<text class="lt" style="text-anchor:start;font-size:13.2px" transform="translate(231.30,217.43) scale(0.93,1)">9</text>
<circle class="lc" cx="448.3" cy="473" r="8.6"/>
<text class="lt" style="text-anchor:start;font-size:13.2px" transform="translate(441.47,477.23) scale(0.93,1)">3</text>
<text class="lt" style="text-anchor:start;font-size:13.2px" transform="translate(448.30,477.23) scale(0.93,1)">0</text>
<circle class="lc" cx="576.5" cy="671.3" r="8.6"/>
<text class="lt" style="text-anchor:start;font-size:13.2px" transform="translate(569.67,675.53) scale(0.93,1)">3</text>
<path d="M581.08,675.53L580.00,675.53L580.00,668.13C579.57,668.60 578.71,669.19 577.84,669.52L577.84,668.40C579.08,667.74 580.06,666.81 580.38,666.07L581.08,666.07Z" fill="#161616" stroke="#161616" stroke-width="0.3"/>
<circle class="lc" cx="421.9" cy="608.8" r="8.6"/>
<text class="lt" style="text-anchor:start;font-size:13.2px" transform="translate(415.07,613.03) scale(0.93,1)">3</text>
<text class="lt" style="text-anchor:start;font-size:13.2px" transform="translate(421.90,613.03) scale(0.93,1)">2</text>
<circle class="lc" cx="576.7" cy="514.5" r="8.6"/>
<text class="lt" style="text-anchor:start;font-size:13.2px" transform="translate(569.87,518.73) scale(0.93,1)">3</text>
<text class="lt" style="text-anchor:start;font-size:13.2px" transform="translate(576.70,518.73) scale(0.93,1)">3</text>
<circle class="lc" cx="523.7" cy="571.1" r="8.6"/>
<text class="lt" style="text-anchor:start;font-size:13.2px" transform="translate(516.87,575.33) scale(0.93,1)">3</text>
<text class="lt" style="text-anchor:start;font-size:13.2px" transform="translate(523.70,575.33) scale(0.93,1)">4</text>
<circle class="lc" cx="339.2" cy="686.3" r="8.6"/>
<text class="lt" style="text-anchor:start;font-size:13.2px" transform="translate(332.37,690.53) scale(0.93,1)">3</text>
<text class="lt" style="text-anchor:start;font-size:13.2px" transform="translate(339.20,690.53) scale(0.93,1)">6</text>
<circle class="lc" cx="455" cy="663" r="8.6"/>
<text class="lt" style="text-anchor:start;font-size:13.2px" transform="translate(448.17,667.23) scale(0.93,1)">3</text>
<text class="lt" style="text-anchor:start;font-size:13.2px" transform="translate(455.00,667.23) scale(0.93,1)">7</text>
<circle class="lc" cx="461.3" cy="710.8" r="8.6"/>
<text class="lt" style="text-anchor:start;font-size:13.2px" transform="translate(454.47,715.03) scale(0.93,1)">3</text>
<text class="lt" style="text-anchor:start;font-size:13.2px" transform="translate(461.30,715.03) scale(0.93,1)">8</text>
<circle class="lc" cx="633.4" cy="631.8" r="8.6"/>
<text class="lt" style="text-anchor:start;font-size:13.2px" transform="translate(626.57,636.03) scale(0.93,1)">3</text>
<text class="lt" style="text-anchor:start;font-size:13.2px" transform="translate(633.40,636.03) scale(0.93,1)">9</text>
<circle class="lc" cx="477.2" cy="569" r="8.6"/>
<text class="lt" style="text-anchor:start;font-size:13.2px" transform="translate(470.37,573.23) scale(0.93,1)">4</text>
<text class="lt" style="text-anchor:start;font-size:13.2px" transform="translate(477.20,573.23) scale(0.93,1)">0</text>
<circle class="lc" cx="593" cy="586.5" r="8.6"/>
<text class="lt" style="text-anchor:start;font-size:13.2px" transform="translate(586.17,590.73) scale(0.93,1)">4</text>
<path d="M597.58,590.73L596.50,590.73L596.50,583.33C596.07,583.80 595.21,584.39 594.34,584.72L594.34,583.60C595.58,582.94 596.56,582.01 596.88,581.27L597.58,581.27Z" fill="#161616" stroke="#161616" stroke-width="0.3"/>
<circle class="lc" cx="645.5" cy="136.6" r="8.6"/>
<text class="lt" style="text-anchor:start;font-size:13.2px" transform="translate(638.67,140.83) scale(0.93,1)">4</text>
<text class="lt" style="text-anchor:start;font-size:13.2px" transform="translate(645.50,140.83) scale(0.93,1)">2</text>
<circle class="lc" cx="614" cy="40.8" r="8.6"/>
<text class="lt" style="text-anchor:start;font-size:13.2px" transform="translate(607.17,45.03) scale(0.93,1)">4</text>
<text class="lt" style="text-anchor:start;font-size:13.2px" transform="translate(614.00,45.03) scale(0.93,1)">3</text>
<circle class="lc" cx="493.8" cy="122.3" r="8.6"/>
<text class="lt" style="text-anchor:start;font-size:13.2px" transform="translate(486.97,126.53) scale(0.93,1)">4</text>
<text class="lt" style="text-anchor:start;font-size:13.2px" transform="translate(493.80,126.53) scale(0.93,1)">4</text>
<circle class="lc" cx="437.8" cy="262" r="8.6"/>
<text class="lt" style="text-anchor:start;font-size:13.2px" transform="translate(430.97,266.23) scale(0.93,1)">4</text>
<text class="lt" style="text-anchor:start;font-size:13.2px" transform="translate(437.80,266.23) scale(0.93,1)">6</text>
<circle class="lc" cx="506.8" cy="331.3" r="8.6"/>
<text class="lt" style="text-anchor:start;font-size:13.2px" transform="translate(499.97,335.53) scale(0.93,1)">5</text>
<text class="lt" style="text-anchor:start;font-size:13.2px" transform="translate(506.80,335.53) scale(0.93,1)">2</text>
<circle class="lc" cx="289" cy="581.6" r="8.6"/>
<text class="lt" style="text-anchor:start;font-size:13.2px" transform="translate(282.17,585.83) scale(0.93,1)">6</text>
<text class="lt" style="text-anchor:start;font-size:13.2px" transform="translate(289.00,585.83) scale(0.93,1)">3</text>
<circle cx="365.6" cy="152.6" r="12" fill="none" stroke="#dc1a24" stroke-width="2.7"/>
</g>
</svg>
</body></html>
